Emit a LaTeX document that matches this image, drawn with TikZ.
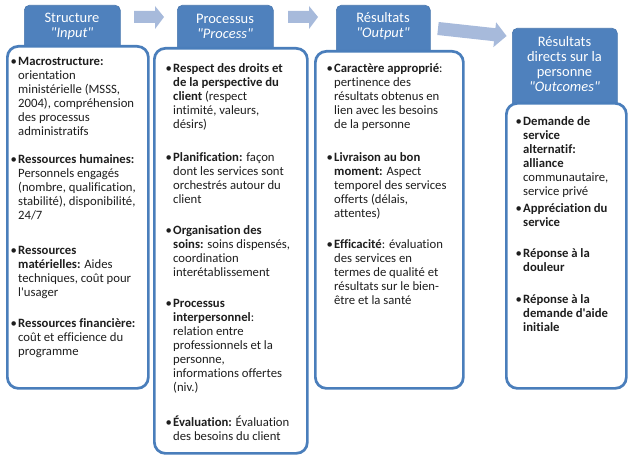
\documentclass[tikz,border=0pt]{standalone}
\usepackage{fontspec}
\setmainfont{Carlito}[Ligatures={TeXOff,CommonOff}]
\usetikzlibrary{calc}
\definecolor{hdr}{HTML}{4F81BD}
\definecolor{bord}{HTML}{4A7EBB}
\definecolor{arr}{HTML}{A7BADB}
\definecolor{txt}{HTML}{1E1E1E}
\newcommand{\bl}{\llap{\textbullet\hspace{1.2pt}}}
\begin{document}
\begin{tikzpicture}[x=1pt,y=-1pt,
 hdrbox/.style={draw=hdr!92!black, line width=0.6pt, fill=hdr, rounded corners=5pt, anchor=north west, inner sep=0pt},
 bodybox/.style={draw=bord, line width=2.7pt, fill=white, rounded corners=11pt, anchor=north west, inner sep=0pt},
 hdrtext/.style={text=white, font=\fontsize{14.5}{15}\selectfont, align=center, inner sep=0pt},
 itemtext/.style={anchor=north west, inner sep=0pt, align=left, font=\fontsize{12.7}{14}\selectfont, text=txt},
 blockarrow/.style={fill=arr}
]
\useasboundingbox (0,0) rectangle (630,460);

% header boxes
\node[hdrbox, minimum width=96pt, minimum height=50pt] (hS) at (24,5) {};
\node[hdrbox, minimum width=96pt, minimum height=50pt] (hP) at (177,5) {};
\node[hdrbox, minimum width=94pt, minimum height=52pt] (hR) at (336,5) {};
\node[hdrbox, minimum width=105pt, minimum height=80pt] (hD) at (512,28) {};

% block arrows
\coordinate (a1s) at (134,17);
\coordinate (a2s) at (288,17);
\fill[blockarrow] (a1s) ++(0,-6) -- ++(21,0) -- ++(0,-5) -- ++(9,11) -- ++(-9,12) -- ++(0,-6) -- ++(-21,0) -- cycle;
\fill[blockarrow] (a2s) ++(0,-6) -- ++(21,0) -- ++(0,-5) -- ++(9,11) -- ++(-9,12) -- ++(0,-6) -- ++(-21,0) -- cycle;
\fill[blockarrow] (438.7,22.0) -- (495.4,28.2) -- (496.1,22.3) -- (506.6,36.0) -- (493.4,47.1) -- (494.0,41.2) -- (437.3,35.0) -- cycle;

% header texts
\node[hdrtext] (tS) at (72,26) {Structure\\\textit{"Input"}};
\node[hdrtext] (tP) at (225,26) {Processus\\\textit{"Process"}};
\node[hdrtext] (tR) at (383,26) {Résultats\\\textit{"Output"}};
\node[hdrtext] (tD) at (564.5,64) {Résultats\\directs sur la\\personne\\\textit{"Outcomes"}};

% body boxes
\node[bodybox, minimum width=141pt, minimum height=342pt] (bS) at (6,45) {};
\node[bodybox, minimum width=153pt, minimum height=405pt] (bP) at (153,47) {};
\node[bodybox, minimum width=148pt, minimum height=337pt] (bR) at (314,50) {};
\node[bodybox, minimum width=120pt, minimum height=285pt] (bD) at (505,102) {};

% Structure items
\node[itemtext] (s1) at (18,57) {\bl\textbf{Macrostructure:}\\orientation\\ministérielle (MSSS,\\2004), compréhension\\des processus\\administratifs};
\node[itemtext] (s2) at (18,154) {\bl\textbf{Ressources humaines:}\\Personnels engagés\\(nombre, qualification,\\stabilité), disponibilité,\\24/7};
\node[itemtext] (s3) at (18,246) {\bl\textbf{Ressources}\\\textbf{matérielles:} Aides\\techniques, coût pour\\l'usager};
\node[itemtext] (s4) at (18,318) {\bl\textbf{Ressources financière:}\\coût et efficience du\\programme};

% Processus items
\node[itemtext] (p1) at (173,63) {\bl\textbf{Respect des droits et}\\\textbf{de la perspective du}\\\textbf{client} (respect\\intimité, valeurs,\\désirs)};
\node[itemtext] (p2) at (173,152) {\bl\textbf{Planification:} façon\\dont les services sont\\orchestrés autour du\\client};
\node[itemtext] (p3) at (173,225) {\bl\textbf{Organisation des}\\\textbf{soins:} soins dispensés,\\coordination\\interétablissement};
\node[itemtext] (p4) at (173,299) {\bl\textbf{Processus}\\\textbf{interpersonnel}:\\relation entre\\professionnels et la\\personne,\\informations offertes\\(niv.)};
\node[itemtext] (p5) at (173,416) {\bl\textbf{Évaluation:} Évaluation\\des besoins du client};

% Resultats items
\node[itemtext] (r1) at (334,63) {\bl\textbf{Caractère approprié}:\\pertinence des\\résultats obtenus en\\lien avec les besoins\\de la personne};
\node[itemtext] (r2) at (334,152) {\bl\textbf{Livraison au bon}\\\textbf{moment:} Aspect\\temporel des services\\offerts (délais,\\attentes)};
\node[itemtext] (r3) at (334,239) {\bl\textbf{Efficacité}: évaluation\\des services en\\termes de qualité et\\résultats sur le bien-\\être et la santé};

% Directs items
\node[itemtext] (d1) at (523,116) {\bl\textbf{Demande de}\\\textbf{service}\\\textbf{alternatif:}\\\textbf{alliance}\\communautaire,\\service privé};
\node[itemtext] (d2) at (523,203) {\bl\textbf{Appréciation du}\\\textbf{service}};
\node[itemtext] (d3) at (523,248) {\bl\textbf{Réponse à la}\\\textbf{douleur}};
\node[itemtext] (d4) at (523,294) {\bl\textbf{Réponse à la}\\\textbf{demande d'aide}\\\textbf{initiale}};
\end{tikzpicture}
\end{document}
